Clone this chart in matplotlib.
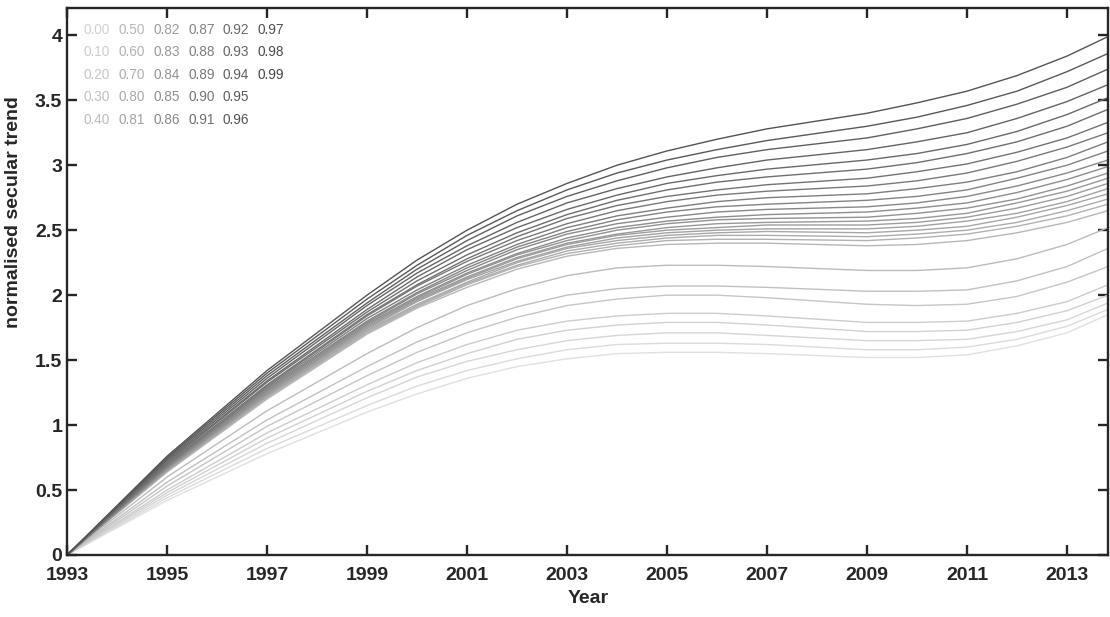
import matplotlib
matplotlib.use("Agg")
import matplotlib.pyplot as plt
import numpy as np

plt.rcParams['font.family'] = ['Liberation Sans', 'DejaVu Sans']

years = [1993, 1995, 1997, 1999, 2000, 2001, 2002, 2003, 2004, 2005, 2006, 2007,
         2009, 2010, 2011, 2012, 2013, 2013.82]

labels = ['0.00', '0.10', '0.20', '0.30', '0.40', '0.50', '0.60', '0.70', '0.80',
          '0.81', '0.82', '0.83', '0.84', '0.85', '0.86', '0.87', '0.88', '0.89',
          '0.90', '0.91', '0.92', '0.93', '0.94', '0.95', '0.96', '0.97', '0.98', '0.99']

t000 = [0, 0.42, 0.78, 1.10, 1.24, 1.36, 1.45, 1.51, 1.55, 1.56, 1.56, 1.55, 1.52, 1.52, 1.54, 1.61, 1.71, 1.85]
t010 = [0, 0.44, 0.82, 1.15, 1.30, 1.42, 1.51, 1.58, 1.62, 1.63, 1.63, 1.62, 1.58, 1.58, 1.60, 1.66, 1.76, 1.89]
t020 = [0, 0.46, 0.86, 1.21, 1.37, 1.49, 1.58, 1.65, 1.69, 1.71, 1.71, 1.69, 1.65, 1.65, 1.66, 1.72, 1.81, 1.94]
t030 = [0, 0.48, 0.90, 1.26, 1.42, 1.55, 1.66, 1.73, 1.77, 1.79, 1.79, 1.77, 1.72, 1.72, 1.73, 1.79, 1.88, 2.00]
t040 = [0, 0.50, 0.94, 1.31, 1.48, 1.62, 1.73, 1.80, 1.84, 1.86, 1.86, 1.84, 1.79, 1.79, 1.80, 1.86, 1.95, 2.08]
t050 = [0, 0.53, 0.99, 1.38, 1.56, 1.71, 1.83, 1.92, 1.97, 2.00, 2.00, 1.98, 1.93, 1.92, 1.93, 1.99, 2.10, 2.22]
t060 = [0, 0.56, 1.04, 1.45, 1.64, 1.79, 1.91, 2.00, 2.05, 2.07, 2.07, 2.06, 2.03, 2.03, 2.04, 2.11, 2.22, 2.36]
t070 = [0, 0.60, 1.11, 1.55, 1.75, 1.92, 2.05, 2.15, 2.21, 2.23, 2.23, 2.22, 2.19, 2.19, 2.21, 2.28, 2.39, 2.52]
t080 = [0, 0.64, 1.20, 1.70, 1.90, 2.06, 2.20, 2.30, 2.36, 2.39, 2.40, 2.40, 2.38, 2.39, 2.42, 2.48, 2.56, 2.65]
t081 = [0, 0.64, 1.21, 1.71, 1.91, 2.08, 2.22, 2.32, 2.38, 2.42, 2.43, 2.43, 2.42, 2.44, 2.47, 2.53, 2.61, 2.70]
t082 = [0, 0.65, 1.22, 1.72, 1.92, 2.09, 2.23, 2.34, 2.40, 2.44, 2.46, 2.46, 2.45, 2.47, 2.50, 2.56, 2.65, 2.74]
t083 = [0, 0.65, 1.22, 1.73, 1.93, 2.10, 2.25, 2.36, 2.42, 2.46, 2.48, 2.49, 2.48, 2.50, 2.53, 2.60, 2.69, 2.78]
t084 = [0, 0.66, 1.23, 1.74, 1.95, 2.12, 2.26, 2.37, 2.44, 2.48, 2.50, 2.51, 2.51, 2.53, 2.57, 2.63, 2.72, 2.82]
t085 = [0, 0.66, 1.24, 1.75, 1.96, 2.13, 2.28, 2.39, 2.46, 2.50, 2.52, 2.54, 2.54, 2.56, 2.60, 2.67, 2.76, 2.86]
t086 = [0, 0.66, 1.24, 1.76, 1.97, 2.14, 2.29, 2.40, 2.47, 2.52, 2.55, 2.56, 2.57, 2.59, 2.63, 2.71, 2.80, 2.90]
t087 = [0, 0.67, 1.25, 1.77, 1.98, 2.16, 2.31, 2.42, 2.50, 2.55, 2.58, 2.59, 2.60, 2.63, 2.67, 2.74, 2.84, 2.94]
t088 = [0, 0.67, 1.26, 1.78, 1.99, 2.17, 2.32, 2.44, 2.52, 2.57, 2.60, 2.62, 2.64, 2.67, 2.71, 2.79, 2.89, 2.99]
t089 = [0, 0.68, 1.27, 1.79, 2.01, 2.19, 2.35, 2.47, 2.55, 2.60, 2.64, 2.66, 2.68, 2.71, 2.76, 2.84, 2.94, 3.04]
t090 = [0, 0.68, 1.28, 1.80, 2.02, 2.21, 2.37, 2.49, 2.58, 2.64, 2.68, 2.70, 2.73, 2.76, 2.81, 2.90, 3.00, 3.11]
t091 = [0, 0.69, 1.29, 1.82, 2.04, 2.23, 2.39, 2.52, 2.61, 2.67, 2.72, 2.75, 2.78, 2.82, 2.87, 2.95, 3.06, 3.18]
t092 = [0, 0.69, 1.30, 1.84, 2.07, 2.26, 2.42, 2.55, 2.65, 2.72, 2.77, 2.80, 2.84, 2.88, 2.94, 3.03, 3.14, 3.25]
t093 = [0, 0.70, 1.31, 1.85, 2.08, 2.28, 2.45, 2.59, 2.69, 2.76, 2.81, 2.85, 2.90, 2.95, 3.01, 3.10, 3.21, 3.33]
t094 = [0, 0.71, 1.33, 1.87, 2.11, 2.31, 2.48, 2.62, 2.73, 2.81, 2.87, 2.91, 2.97, 3.02, 3.09, 3.18, 3.30, 3.43]
t095 = [0, 0.72, 1.34, 1.89, 2.14, 2.35, 2.52, 2.66, 2.77, 2.86, 2.92, 2.97, 3.04, 3.09, 3.16, 3.26, 3.39, 3.52]
t096 = [0, 0.73, 1.36, 1.92, 2.17, 2.38, 2.56, 2.71, 2.82, 2.91, 2.98, 3.04, 3.12, 3.18, 3.25, 3.36, 3.49, 3.62]
t097 = [0, 0.74, 1.38, 1.94, 2.20, 2.42, 2.61, 2.76, 2.88, 2.98, 3.06, 3.12, 3.21, 3.28, 3.36, 3.47, 3.60, 3.74]
t098 = [0, 0.75, 1.40, 1.97, 2.23, 2.46, 2.65, 2.81, 2.94, 3.04, 3.12, 3.19, 3.30, 3.37, 3.46, 3.57, 3.72, 3.86]
t099 = [0, 0.76, 1.42, 2.00, 2.27, 2.50, 2.70, 2.86, 3.00, 3.11, 3.20, 3.28, 3.40, 3.48, 3.57, 3.69, 3.84, 3.99]

series = [t000, t010, t020, t030, t040, t050, t060, t070, t080, t081, t082, t083,
          t084, t085, t086, t087, t088, t089, t090, t091, t092, t093, t094, t095,
          t096, t097, t098, t099]

greys = np.linspace(0.88, 0.33, len(series))

fig = plt.figure(figsize=(11.1, 6.17), dpi=100)
ax = fig.add_axes([0.0604, 0.1005, 0.9378, 0.8865])

for vals, g in zip(series, greys):
    ax.plot(years, vals, color=str(g), lw=1.0)

# threshold labels, 5 per column
for i, (lab, g) in enumerate(zip(labels, greys)):
    col, row = divmod(i, 5)
    ax.text(0.0154 + col * 0.0336, 0.960 - row * 0.0411, lab, color=str(g - 0.06),
            fontsize=9.8, transform=ax.transAxes, ha='left', va='center')

ax.set_xlim(1993, 2013.82)
ax.set_ylim(0, 4.21)
ax.set_xticks(range(1993, 2014, 2))
ax.set_yticks([0, 0.5, 1, 1.5, 2, 2.5, 3, 3.5, 4])
ax.set_yticklabels(['0', '0.5', '1', '1.5', '2', '2.5', '3', '3.5', '4'])

for s in ax.spines.values():
    s.set_linewidth(1.7)
    s.set_color('#262626')
ax.tick_params(direction='in', length=7, width=1.7, top=True, right=True,
               labelsize=14, colors='#262626', pad=3.5)
ax.tick_params(axis='x', pad=9)
for lab in ax.get_xticklabels() + ax.get_yticklabels():
    lab.set_fontweight('bold')

ax.set_xlabel('Year', fontsize=14, fontweight='bold', color='#262626')
ax.set_ylabel('normalised secular trend', fontsize=14, fontweight='bold', color='#262626')
ax.xaxis.set_label_coords(0.5005, -0.064)
ax.yaxis.set_label_coords(-0.043, 0.627)

fig.savefig('out.png', dpi=100)
